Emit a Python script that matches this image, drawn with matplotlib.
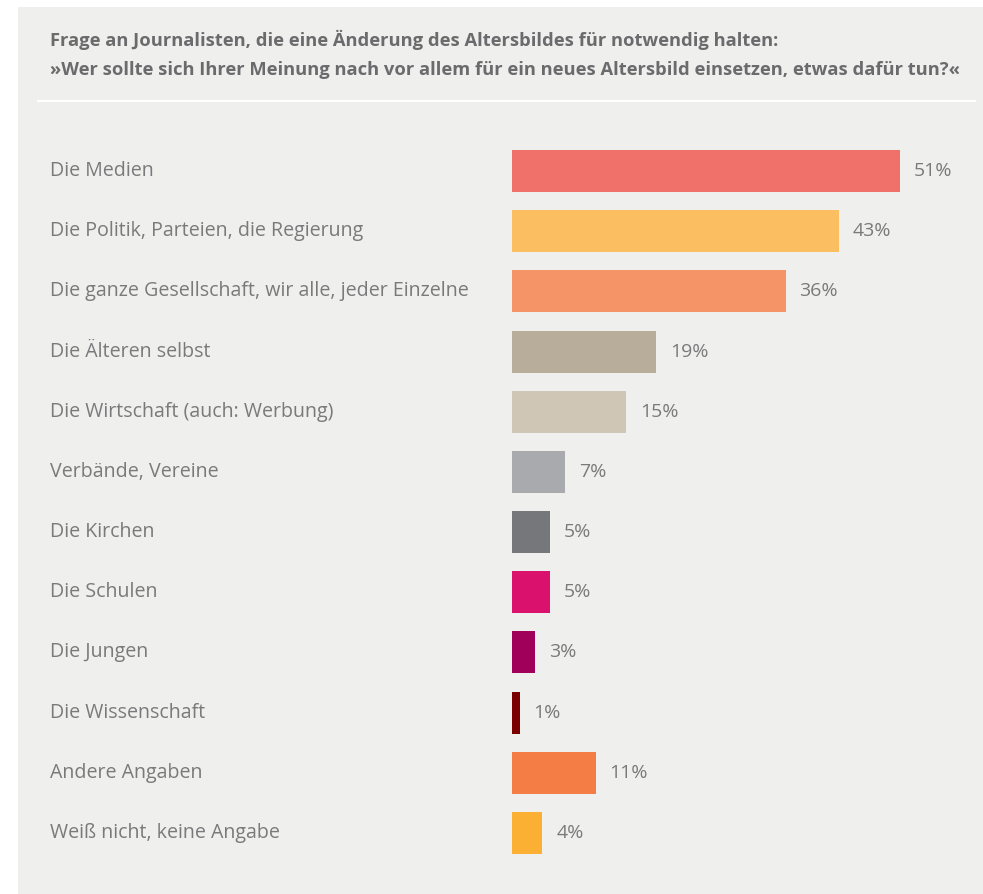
import matplotlib
matplotlib.use("Agg")
import matplotlib.pyplot as plt
from matplotlib.patches import Rectangle
from matplotlib.lines import Line2D
from matplotlib.transforms import blended_transform_factory

# Data
categories = [
    "Die Medien",
    "Die Politik, Parteien, die Regierung",
    "Die ganze Gesellschaft, wir alle, jeder Einzelne",
    "Die Älteren selbst",
    "Die Wirtschaft (auch: Werbung)",
    "Verbände, Vereine",
    "Die Kirchen",
    "Die Schulen",
    "Die Jungen",
    "Die Wissenschaft",
    "Andere Angaben",
    "Weiß nicht, keine Angabe",
]
values = [51, 43, 36, 19, 15, 7, 5, 5, 3, 1, 11, 4]
colors = [
    "#F0706A", "#FBBF62", "#F59466", "#B8AC9A", "#D0C6B6", "#A9AAAD",
    "#76777A", "#DA126D", "#A0005A", "#7A0000", "#F47C45", "#FBB034",
]
title_lines = [
    "Frage an Journalisten, die eine Änderung des Altersbildes für notwendig halten:",
    "»Wer sollte sich Ihrer Meinung nach vor allem für ein neues Altersbild einsetzen, etwas dafür tun?«",
]

W, H = 983, 894
BG = "#EFEFED"
TXT = "#7A7A7C"
TITLE = "#6B6B6E"
plt.rcParams["font.family"] = ["Open Sans", "DejaVu Sans"]

fig = plt.figure(figsize=(W / 100, H / 100), dpi=100, facecolor="white")

# gray panel
fig.patches.append(Rectangle((18 / W, 0), 1 - 18 / W, 1 - 7 / H,
                             transform=fig.transFigure, facecolor=BG,
                             edgecolor="none", zorder=0))

# title
fig.text(50 / W, 1 - 40 / H, title_lines[0], fontsize=13.2, fontweight="bold",
         color=TITLE, va="center", ha="left", zorder=2)
fig.text(50 / W, 1 - 70 / H, title_lines[1], fontsize=13.2, fontweight="bold",
         color=TITLE, va="center", ha="left", zorder=2)
fig.add_artist(Line2D([38 / W, 975 / W], [1 - 101 / H, 1 - 101 / H],
                      transform=fig.transFigure, color="white", lw=1.6, zorder=2))

# bar axes
pitch = 60.18
top_px = 171 - pitch / 2
bot_px = 833 + pitch / 2
x0_px = 512
scale = 7.6  # px per percent
xmax = 60
ax = fig.add_axes([x0_px / W, 1 - bot_px / H, xmax * scale / W, (bot_px - top_px) / H])
ax.set_zorder(3)
ax.set_facecolor("none")

y = list(range(len(categories)))
bars = ax.barh(y, values, height=42 / pitch, color=colors)
ax.set_xlim(0, xmax)
ax.set_ylim(len(categories) - 0.5, -0.5)
ax.bar_label(bars, labels=[f"{v}%" for v in values], padding=10,
             fontsize=14, color=TXT)

trans = blended_transform_factory(fig.transFigure, ax.transData)
for i, c in enumerate(categories):
    ax.text(50 / W, i, c, transform=trans, fontsize=14.1, color=TXT,
            va="center", ha="left", clip_on=False)

ax.axis("off")

fig.savefig("out.png", dpi=100, facecolor="white")
